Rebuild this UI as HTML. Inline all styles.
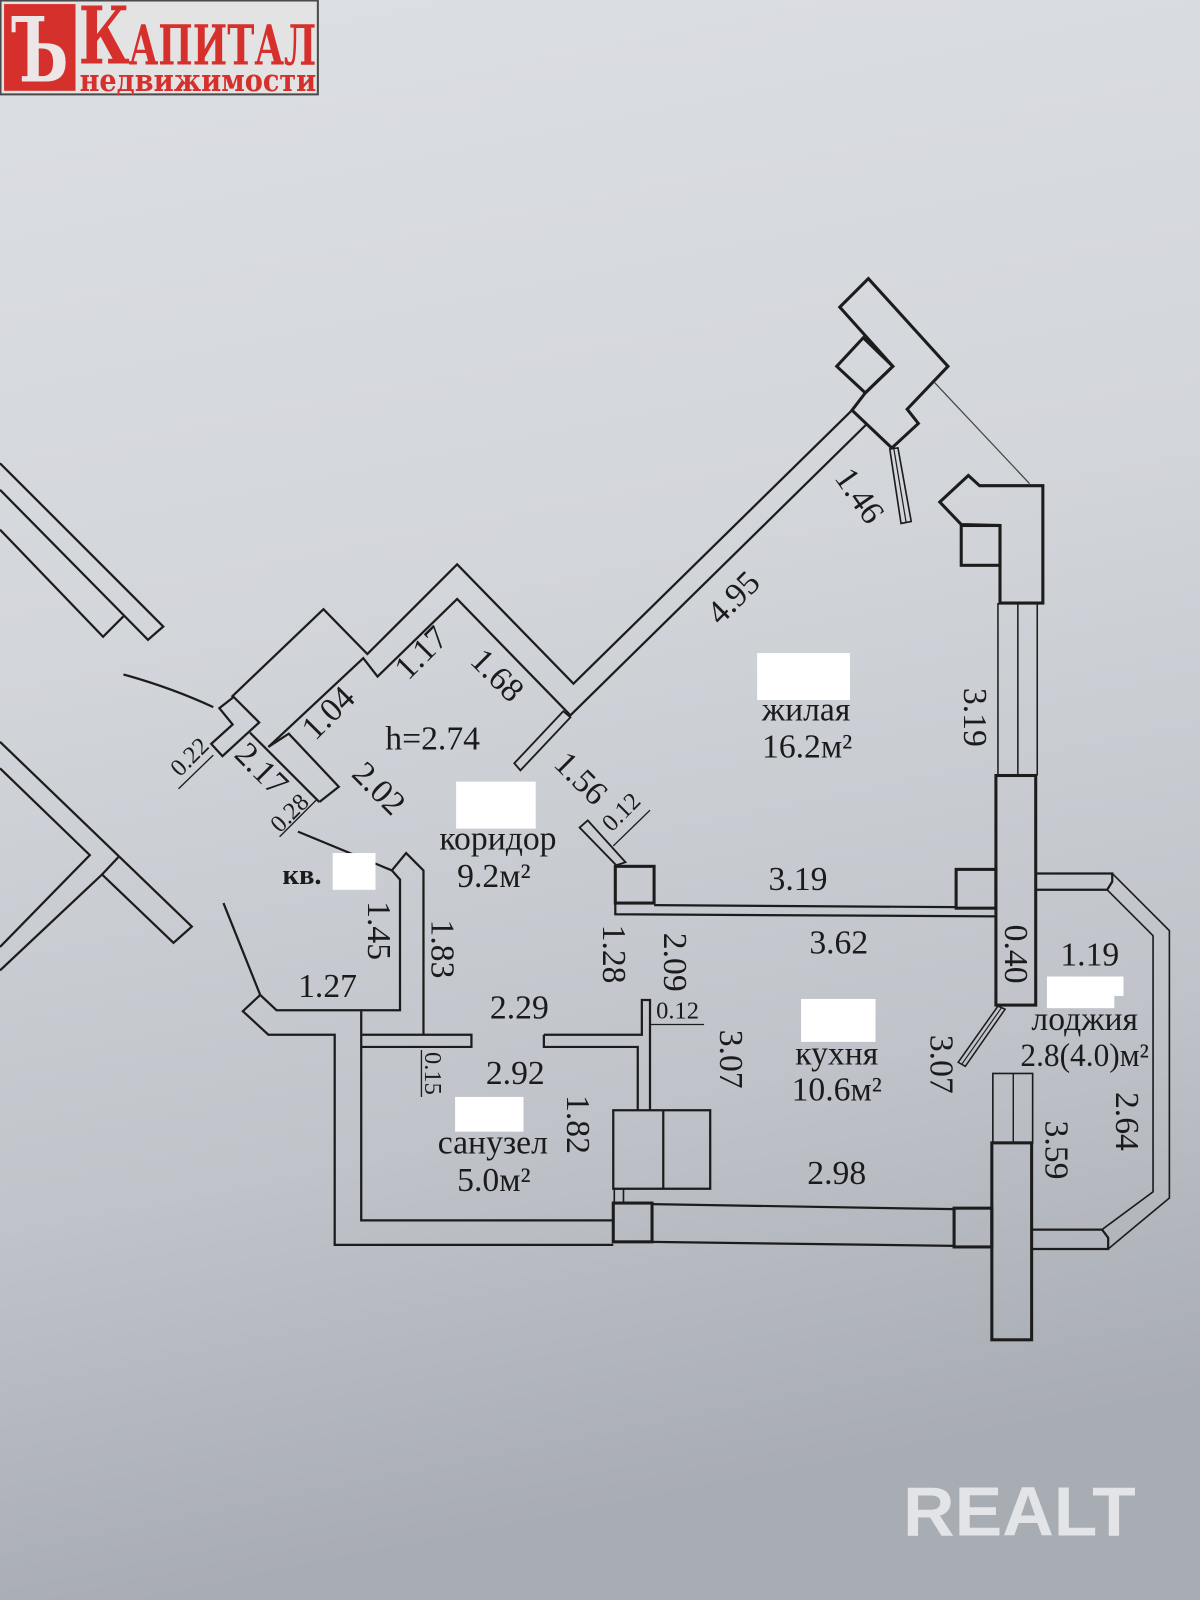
<!DOCTYPE html>
<html><head><meta charset="utf-8"><style>
html,body{margin:0;padding:0;width:1200px;height:1600px;overflow:hidden;background:#d0d3d8}
svg{display:block}
</style></head><body>
<svg width="1200" height="1600" viewBox="0 0 1176 1568" xmlns="http://www.w3.org/2000/svg">
<defs>
<linearGradient id="bg" x1="0" y1="0" x2="0.15" y2="1">
<stop offset="0" stop-color="#dcdfe3"/>
<stop offset="0.4" stop-color="#d3d6db"/>
<stop offset="0.75" stop-color="#c0c4ca"/>
<stop offset="1" stop-color="#a8acb3"/>
</linearGradient>
</defs>
<rect x="0" y="0" width="1176" height="1568" fill="url(#bg)"/>

<!-- logo -->
<g>
<rect x="0.5" y="0.5" width="311" height="92" fill="#e4e3e3" stroke="#4a4a4a" stroke-width="2"/>
<rect x="4" y="4" width="70" height="85" fill="#d5302c"/>
<text x="39" y="80" font-family="DejaVu Serif, serif" font-weight="bold" font-size="88" fill="#ece6e6" text-anchor="middle" textLength="56" lengthAdjust="spacingAndGlyphs">Ъ</text>
<text x="77" y="62" font-family="DejaVu Serif, serif" font-weight="bold" font-size="78" fill="#d5302c" textLength="50" lengthAdjust="spacingAndGlyphs">К</text>
<text x="126" y="63" font-family="DejaVu Serif, serif" font-weight="bold" font-size="54" fill="#d5302c" textLength="184" lengthAdjust="spacingAndGlyphs">АПИТАЛ</text>
<text x="78" y="89" font-family="DejaVu Serif, serif" font-weight="bold" font-size="30" fill="#d5302c" textLength="232" lengthAdjust="spacingAndGlyphs">недвижимости</text>
</g>

<g fill="none" stroke="#1c1c1c" stroke-width="2.2" stroke-linejoin="miter">
<!-- neighbour walls left -->
<path d="M0,454 L160,614 L145,627 L0,480"/>
<path d="M0,519 L101,624 L121,604"/>
<path d="M0,727 L188,908 L170,924 L100,857 L0,951"/>
<path d="M116,840 L100,857"/>
<path d="M0,753 L88,838 L0,928"/>

<!-- top NE structure -->
<path d="M823,301 L851,273 L929,359 L889,401 L900,415 L874,439 L835,402 L848,385 L875,359 Z" stroke-width="3"/>
<path d="M820,359 L846,331 L875,359 L848,385 Z" stroke-width="3"/>
<path d="M872,440 L880,439 L893,511 L883,513 Z" stroke-width="1.6"/>
<path d="M876,440 L888,512" stroke-width="1.2"/>
<path d="M916,375 L1009,474" stroke-width="1.2" stroke="#444"/>

<!-- zigzag + 4.95 wall -->
<path d="M227,683 L317,597 L360,641 L448,553 L562,670 L835,402"/>
<path d="M263,732 L356,645 L370,663 L448,587 L559,701 L849,416"/>
<!-- 1.56 door stub -->
<path d="M552,697 L559,703 L510,755 L504,748 Z" stroke-width="1.8"/>

<!-- 0.22 pillar -->
<path d="M215,694 L229,683 L254,708 L218,741 L207,729 L228,710 Z"/>
<path d="M121,661 Q168,674 209,693"/>
<path d="M175,773 L209,740" stroke-width="1.3"/>
<!-- 2.17 / 2.02 -->
<path d="M245,718 L313,786"/>
<path d="M263,732 L283,719 L332,771 L313,786"/>
<path d="M274,820 L310,784" stroke-width="1.3"/>

<!-- door line near кв -->
<path d="M292,815 L384,853"/>
<!-- 1.45 / 1.83 wall & 1.27 -->
<path d="M384,853 L398,836 L415,853 L415,1014"/>
<path d="M384,853 L392,862 L392,990 L271,990 L255,975 L238,991 L263,1014 L328,1014 L328,1220 L601,1220"/>
<path d="M219,885 L255,975"/>
<path d="M354,991 L354,1196 L602,1196"/>
<path d="M354,1014 L462,1014 L462,1026 L354,1026"/>
<path d="M413,1029 L413,1075" stroke-width="1.3"/>
<!-- right part of horizontal partition + 0.12 wall -->
<path d="M533,1014 L629,1014 L629,980 L637,980 L637,1088"/>
<path d="M533,1014 L533,1026 L625,1026 L625,1088"/>
<path d="M637,1004 L690,1004" stroke-width="1.3"/>
<!-- cabinet -->
<path d="M601,1088 L696,1088 L696,1165 L601,1165 Z"/>
<path d="M650,1088 L650,1165"/>
<path d="M602,1165 L611,1165 L611,1179 L602,1179 Z" stroke-width="1.6"/>
<!-- bottom squares -->
<rect x="601" y="1179" width="38" height="38" stroke-width="3"/>
<rect x="935" y="1184" width="37" height="38" stroke-width="3"/>
<!-- kitchen bottom wall -->
<path d="M639,1180 L935,1185"/>
<path d="M639,1217 L935,1221"/>

<!-- kitchen top: pillar + 3.19 wall -->
<rect x="603" y="849" width="38" height="36" stroke-width="3"/>
<path d="M568,811 L576,804 L613,845 L604,848 Z" stroke-width="1.8"/>
<path d="M601,829 L637,794" stroke-width="1.3"/>
<path d="M641,887 L937,889"/>
<path d="M603,885 L603,896 L976,898"/>
<rect x="937" y="852" width="39" height="38" stroke-width="3"/>

<!-- right structure -->
<path d="M921,492 L949,466 L960,476 L1022,476 L1022,591 L980,591 L980,515 L942,514 Z" stroke-width="3"/>
<rect x="942" y="515" width="38" height="39" stroke-width="3"/>
<path d="M978,591 L978,760 M997.5,591 L997.5,760 M1016.5,591 L1016.5,760" stroke-width="1.5"/>
<rect x="976" y="760" width="39" height="225" stroke-width="3"/>

<!-- loggia -->
<path d="M1015,856 L1090,856 L1090,864 L1085,872 L1015,872"/>
<path d="M1090,856 L1146,912 L1146,1174 L1086,1224" stroke-width="1.6"/>
<path d="M1085,872 L1130,917 L1130,1168 L1080,1205" stroke-width="1.6"/>
<path d="M1011,1205 L1080,1205 L1086,1213 L1086,1224 L1011,1224"/>
<!-- loggia door leaf -->
<path d="M978,986 L985,989 L946,1045 L939,1041 Z" stroke-width="1.5"/>
<path d="M981.5,987.5 L942.5,1043" stroke-width="1.1"/>
<!-- lower window + pillar -->
<rect x="973" y="1052" width="39" height="68" stroke-width="1.6"/>
<path d="M993,1052 L993,1120" stroke-width="1.4"/>
<rect x="972" y="1120" width="39" height="193" stroke-width="3"/>
</g>

<!-- white masks -->
<g fill="#ffffff">
<rect x="742" y="640" width="91" height="46"/>
<rect x="447" y="766" width="78" height="46"/>
<rect x="326" y="836" width="42" height="36"/>
<rect x="785" y="979" width="73" height="42"/>
<rect x="1026" y="957" width="75" height="19"/>
<rect x="1026" y="975" width="66" height="13"/>
<rect x="446" y="1075" width="67" height="34"/>
</g>

<!-- labels -->
<g font-family="Liberation Serif, serif" font-size="33" fill="#1b1b1b" text-anchor="middle" dominant-baseline="central">
<text x="842" y="486" transform="rotate(55 842 486)">1.46</text>
<text x="719" y="586" transform="rotate(-45 719 586)">4.95</text>
<text x="955" y="703" transform="rotate(90 955 703)">3.19</text>
<text x="790" y="696">жилая</text>
<text x="791" y="732">16.2м²</text>
<text x="413" y="640" transform="rotate(-45 413 640)">1.17</text>
<text x="487" y="662" transform="rotate(45 487 662)">1.68</text>
<text x="322" y="699" transform="rotate(-45 322 699)">1.04</text>
<text x="424" y="724">h=2.74</text>
<text x="569" y="763" transform="rotate(45 569 763)">1.56</text>
<text x="256" y="754" transform="rotate(45 256 754)">2.17</text>
<text x="371" y="773" transform="rotate(45 371 773)">2.02</text>
<text x="488" y="822">коридор</text>
<text x="484" y="859">9.2м²</text>
<text x="296" y="858" font-weight="bold" font-size="28">кв.</text>
<text x="371" y="912" transform="rotate(90 371 912)">1.45</text>
<text x="433" y="930" transform="rotate(90 433 930)">1.83</text>
<text x="321" y="967">1.27</text>
<text x="509" y="988">2.29</text>
<text x="505" y="1052">2.92</text>
<text x="601" y="935" transform="rotate(90 601 935)">1.28</text>
<text x="661" y="943" transform="rotate(90 661 943)">2.09</text>
<text x="782" y="862">3.19</text>
<text x="822" y="924">3.62</text>
<text x="716" y="1038" transform="rotate(90 716 1038)">3.07</text>
<text x="820" y="1033">кухня</text>
<text x="820" y="1068">10.6м²</text>
<text x="922" y="1043" transform="rotate(90 922 1043)">3.07</text>
<text x="995" y="935" transform="rotate(90 995 935)">0.40</text>
<text x="1068" y="936">1.19</text>
<text x="1063" y="999">лоджия</text>
<text x="1063" y="1035" font-size="32" textLength="126" lengthAdjust="spacingAndGlyphs">2.8(4.0)м²</text>
<text x="1104" y="1099" transform="rotate(90 1104 1099)">2.64</text>
<text x="1035" y="1127" transform="rotate(90 1035 1127)">3.59</text>
<text x="566" y="1102" transform="rotate(90 566 1102)">1.82</text>
<text x="483" y="1120">санузел</text>
<text x="484" y="1157">5.0м²</text>
<text x="820" y="1150">2.98</text>
<g font-size="24">
<text x="609" y="796" transform="rotate(-45 609 796)">0.12</text>
<text x="186" y="742" transform="rotate(-45 186 742)">0.22</text>
<text x="284" y="797" transform="rotate(-45 284 797)">0.28</text>
<text x="424" y="1052" transform="rotate(90 424 1052)">0.15</text>
<text x="664" y="991">0.12</text>
</g>
</g>

<!-- watermark -->
<text x="885" y="1505" font-family="Liberation Sans, sans-serif" font-weight="bold" font-size="68" fill="#e2e4e7" textLength="228" lengthAdjust="spacingAndGlyphs">REALT</text>
</svg>
</body></html>
